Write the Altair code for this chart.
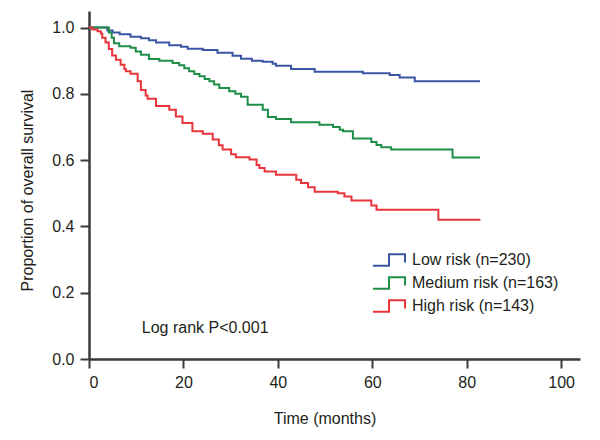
import altair as alt
import pandas as pd

FONT = "Liberation Sans, Arial, sans-serif"
FS = 16

series_names = ["Low risk (n=230)", "Medium risk (n=163)", "High risk (n=143)"]
series_colors = ["#3b55a5", "#1f8e49", "#e8343b"]

low_t = [0, 3.9, 5.0, 6.5, 8.8, 11.0, 12.7, 14.2, 17.0, 19.5, 20.9, 24.1, 27.2, 30.4,
         32.2, 34.5, 36.8, 38.9, 39.6, 42.8, 47.8, 58.0, 63.7, 65.8, 69.0, 82.8]
low_s = [1.0, 0.991, 0.985, 0.980, 0.972, 0.968, 0.962, 0.955, 0.947, 0.942, 0.936, 0.932,
         0.924, 0.915, 0.906, 0.900, 0.897, 0.891, 0.885, 0.875, 0.867, 0.862, 0.857,
         0.849, 0.838, 0.838]

med_t = [0, 4.2, 4.8, 5.3, 6.4, 8.8, 9.9, 11.0, 12.7, 14.9, 17.7, 19.1, 20.2, 21.2, 22.3,
         23.4, 24.5, 25.5, 26.5, 27.6, 29.7, 31.0, 32.2, 33.6, 36.8, 37.9, 39.6, 42.8,
         48.8, 51.7, 53.1, 53.8, 55.9, 59.8, 60.9, 61.9, 64.0, 77.0, 82.8]
med_s = [1.0, 0.985, 0.969, 0.953, 0.944, 0.939, 0.928, 0.918, 0.905, 0.900, 0.893, 0.886,
         0.877, 0.868, 0.860, 0.853, 0.845, 0.838, 0.828, 0.818, 0.808, 0.800, 0.791,
         0.767, 0.752, 0.730, 0.724, 0.714, 0.707, 0.700, 0.692, 0.687, 0.665, 0.655,
         0.646, 0.639, 0.632, 0.608, 0.608]

high_t = [0, 0.7, 1.8, 2.5, 2.8, 3.5, 4.2, 4.9, 5.7, 6.7, 7.5, 7.8, 8.8, 10.3, 11.0, 12.0,
          12.4, 14.2, 17.0, 18.4, 19.8, 21.9, 24.1, 26.2, 27.5, 28.3, 30.1, 31.1, 34.0,
          35.5, 36.1, 37.2, 39.6, 43.9, 44.9, 46.4, 47.8, 52.7, 54.1, 55.6, 59.8, 60.9,
          74.0, 82.9]
high_s = [1.0, 0.994, 0.989, 0.982, 0.969, 0.955, 0.935, 0.916, 0.903, 0.888, 0.875, 0.868,
          0.861, 0.838, 0.812, 0.795, 0.785, 0.763, 0.752, 0.732, 0.712, 0.687, 0.680,
          0.662, 0.645, 0.632, 0.618, 0.609, 0.602, 0.585, 0.576, 0.566, 0.556, 0.541,
          0.531, 0.518, 0.505, 0.500, 0.490, 0.478, 0.463, 0.450, 0.420, 0.420]

x_ticks = [0, 20, 40, 60, 80, 100]
y_ticks = [0.0, 0.2, 0.4, 0.6, 0.8, 1.0]
annotation = ["Log rank P<0.001"]

rows = []
for name, ts, ss in zip(series_names, [low_t, med_t, high_t], [low_s, med_s, high_s]):
    for t, s in zip(ts, ss):
        rows.append({"group": name, "time": t, "surv": s})
df = pd.DataFrame(rows)

symbol_path = "M-2.67,0.95 L0,0.95 L0,-0.95 L2.67,-0.95 L2.67,0.42"

lines = alt.Chart(df).mark_line(interpolate="step-after", strokeWidth=2).encode(
    x=alt.X("time:Q", scale=alt.Scale(domain=[0, 104], nice=False, zero=True),
            axis=alt.Axis(values=x_ticks, title="Time (months)", titleX=235.5, titleY=59,
                          titleBaseline="middle", titleAlign="center")),
    y=alt.Y("surv:Q", scale=alt.Scale(domain=[0, 1.05], nice=False),
            axis=alt.Axis(values=y_ticks, format=".1f", title="Proportion of overall survival",
                          titleX=-62, titleY=179, titleAlign="center", titleBaseline="middle",
                          titleAngle=-90)),
    color=alt.Color("group:N", scale=alt.Scale(domain=series_names, range=series_colors),
                    sort=series_names,
                    legend=alt.Legend(title=None, orient="none", legendX=292, legendY=241,
                                      symbolType=symbol_path, symbolSize=144,
                                      symbolStrokeWidth=2, symbolFillColor="transparent",
                                      labelOffset=15, rowPadding=3, labelFontSize=FS,
                                      labelFont=FONT, labelColor="#231f20",
                                      labelLimit=300)),
    order="time:Q",
)

text = alt.Chart(pd.DataFrame({"label": annotation})).mark_text(
    fontSize=FS, font=FONT, color="#231f20", align="center", baseline="middle"
).encode(
    x=alt.datum(24.6),
    y=alt.datum(0.094),
    text="label:N",
)

chart = alt.layer(lines, text).properties(
    width=491, height=348,
    padding={"left": 11, "top": 3, "right": 5, "bottom": 5},
).configure(font=FONT).configure_view(stroke=None).configure_axis(
    grid=False,
    domainColor="#3a3a3a", domainWidth=2.5,
    tickColor="#3a3a3a", tickWidth=2, tickSize=9,
    labelFont=FONT, labelFontSize=FS, labelColor="#231f20", labelPadding=6,
    titleFont=FONT, titleFontSize=FS, titleColor="#231f20", titleFontWeight="normal",
)

chart.save("out.html", embed_options={"renderer": "svg", "actions": False})
